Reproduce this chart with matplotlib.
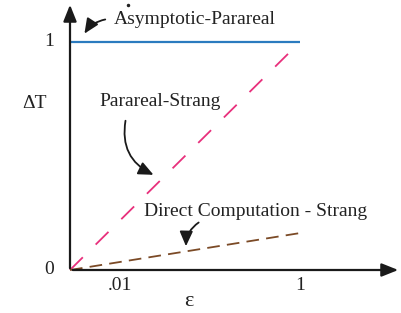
import matplotlib
matplotlib.use("Agg")
import matplotlib.pyplot as plt

# Data (schematic)
x_vals = [0.0, 1.0]
asym_parareal = [1.0, 1.0]
parareal_strang = [0.0, 1.0]
direct_strang = [0.0, 0.162]
x_ticks = [0.217, 1.0]
x_tick_labels = [".01", "1"]
y_ticks = [0.0, 1.0]
y_tick_labels = ["0", "1"]

plt.rcParams['font.family'] = ['Liberation Serif', 'DejaVu Serif']

W, H = 402, 313
fig = plt.figure(figsize=(W / 100, H / 100), dpi=100)
ax = fig.add_axes([0, 0, 1, 1])
x0, sx = 70, 230
y0, sy = 270, 228
ax.set_xlim(-x0 / sx, (W - x0) / sx)
ax.set_ylim(-(H - y0) / sy, y0 / sy)
ax.axis('off')

def px(x, y):
    return ((x - x0) / sx, (y0 - y) / sy)

# axes arrows
ax.annotate('', xy=px(401, 270), xytext=px(70, 270), annotation_clip=False,
            arrowprops=dict(arrowstyle='-|>,head_length=1.0,head_width=0.4', color='#1a1a1a', lw=1.6))
ax.annotate('', xy=px(70, 2), xytext=px(70, 271), annotation_clip=False,
            arrowprops=dict(arrowstyle='-|>,head_length=1.0,head_width=0.4', color='#1a1a1a', lw=1.6))

# lines
ax.plot(x_vals, asym_parareal, color='#2b7bbf', lw=1.6, solid_capstyle='butt')
ax.plot(x_vals, parareal_strang, color='#e8307c', lw=1.3, dashes=(10, 10))
ax.plot(x_vals, direct_strang, color='#7b4a26', lw=1.3, dashes=(7, 4))

fs = 14
# ticks
for t, l in zip(x_ticks, x_tick_labels):
    ax.text(t, px(0, 285)[1], l, ha='center', va='center', fontsize=fs, color='#222222')
for t, l in zip(y_ticks, y_tick_labels):
    ax.text(px(49, 0)[0], t, l, ha='center', va='center', fontsize=fs, color='#222222')

ax.text(*px(35, 104), 'ΔT', ha='center', va='center', fontsize=fs, color='#222222')
ax.text(*px(189, 302), 'ε', ha='center', va='center', fontsize=fs + 2, color='#222222')

# annotations
ax.text(*px(114, 20), 'Asymptotic-Parareal', ha='left', va='center', fontsize=fs, color='#222222')
ax.text(*px(99, 101), 'Parareal-Strang', ha='left', va='center', fontsize=fs, color='#222222')
ax.text(*px(144, 212), 'Direct Computation - Strang', ha='left', va='center', fontsize=fs, color='#222222')
ax.plot(*px(128, 5), 'o', color='#222222', ms=1.5)

ap = dict(arrowstyle='-|>,head_length=0.9,head_width=0.4', color='#1a1a1a', lw=1.3)
ax.annotate('', xy=px(83, 36), xytext=px(108, 19),
            arrowprops=dict(connectionstyle='arc3,rad=0.25', **ap))
ax.annotate('', xy=px(156, 176), xytext=px(126, 118),
            arrowprops=dict(connectionstyle='arc3,rad=0.4', **ap))
ax.annotate('', xy=px(186, 249), xytext=px(201, 221),
            arrowprops=dict(connectionstyle='arc3,rad=0.3', **ap))

fig.savefig('out.png', dpi=100, facecolor='white')
